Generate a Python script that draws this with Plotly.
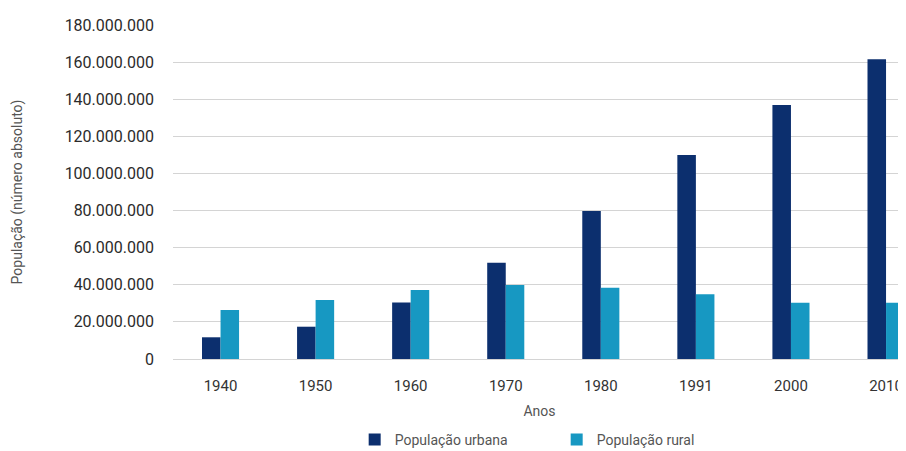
import plotly.graph_objects as go

anos = ["1940", "1950", "1960", "1970", "1980", "1991", "2000", "2010"]
urbana = [11.7e6, 17.4e6, 30.5e6, 51.9e6, 79.7e6, 109.9e6, 136.9e6, 161.6e6]
rural = [26.4e6, 31.8e6, 37.2e6, 39.9e6, 38.4e6, 34.9e6, 30.3e6, 30.3e6]
yticks = [0, 20e6, 40e6, 60e6, 80e6, 100e6, 120e6, 140e6, 160e6, 180e6]

fig = go.Figure()
fig.add_trace(go.Bar(x=list(range(len(anos))), y=urbana, name="População urbana",
                     marker=dict(color="#0c2f6e", line=dict(width=0))))
fig.add_trace(go.Bar(x=list(range(len(anos))), y=rural, name="População rural",
                     marker=dict(color="#1798c2", line=dict(width=0))))

# page body has an 8px default margin, so the figure is sized to fit the window
fig.update_layout(
    width=898, height=443,
    margin=dict(l=165, r=0, t=17, b=92, autoexpand=False),
    paper_bgcolor="white", plot_bgcolor="white",
    separators=",.",
    barmode="group", bargap=0.61, bargroupgap=0,
    font=dict(family="Roboto", color="#333333"),
    xaxis=dict(
        tickmode="array", tickvals=list(range(len(anos))), ticktext=anos,
        range=[-0.5, 7.21], showgrid=False, zeroline=False, showline=False,
        automargin=False,
        tickfont=dict(size=15, color="#333333"),
        ticklabelstandoff=16,
        title=dict(text="Anos", font=dict(size=14, color="#555555"), standoff=12),
    ),
    yaxis=dict(
        range=[0, 180e6], tickvals=yticks, tickformat=",d",
        showgrid=True, gridcolor="#d4d4d4", gridwidth=1,
        zeroline=True, zerolinecolor="#d4d4d4", zerolinewidth=1,
        automargin=False,
        tickfont=dict(size=16, color="#2b2b2b"),
        ticklabelstandoff=18,
        title=dict(text="População (número absoluto)", font=dict(size=14, color="#555555"), standoff=38),
    ),
    legend=dict(orientation="h", x=0.611, xanchor="center", xref="container",
                y=0.025, yanchor="middle", yref="container",
                font=dict(size=14, color="#555555"), itemwidth=30,
                entrywidth=157, entrywidthmode="pixels",
                traceorder="normal"),
)

fig.write_html("out.html")
